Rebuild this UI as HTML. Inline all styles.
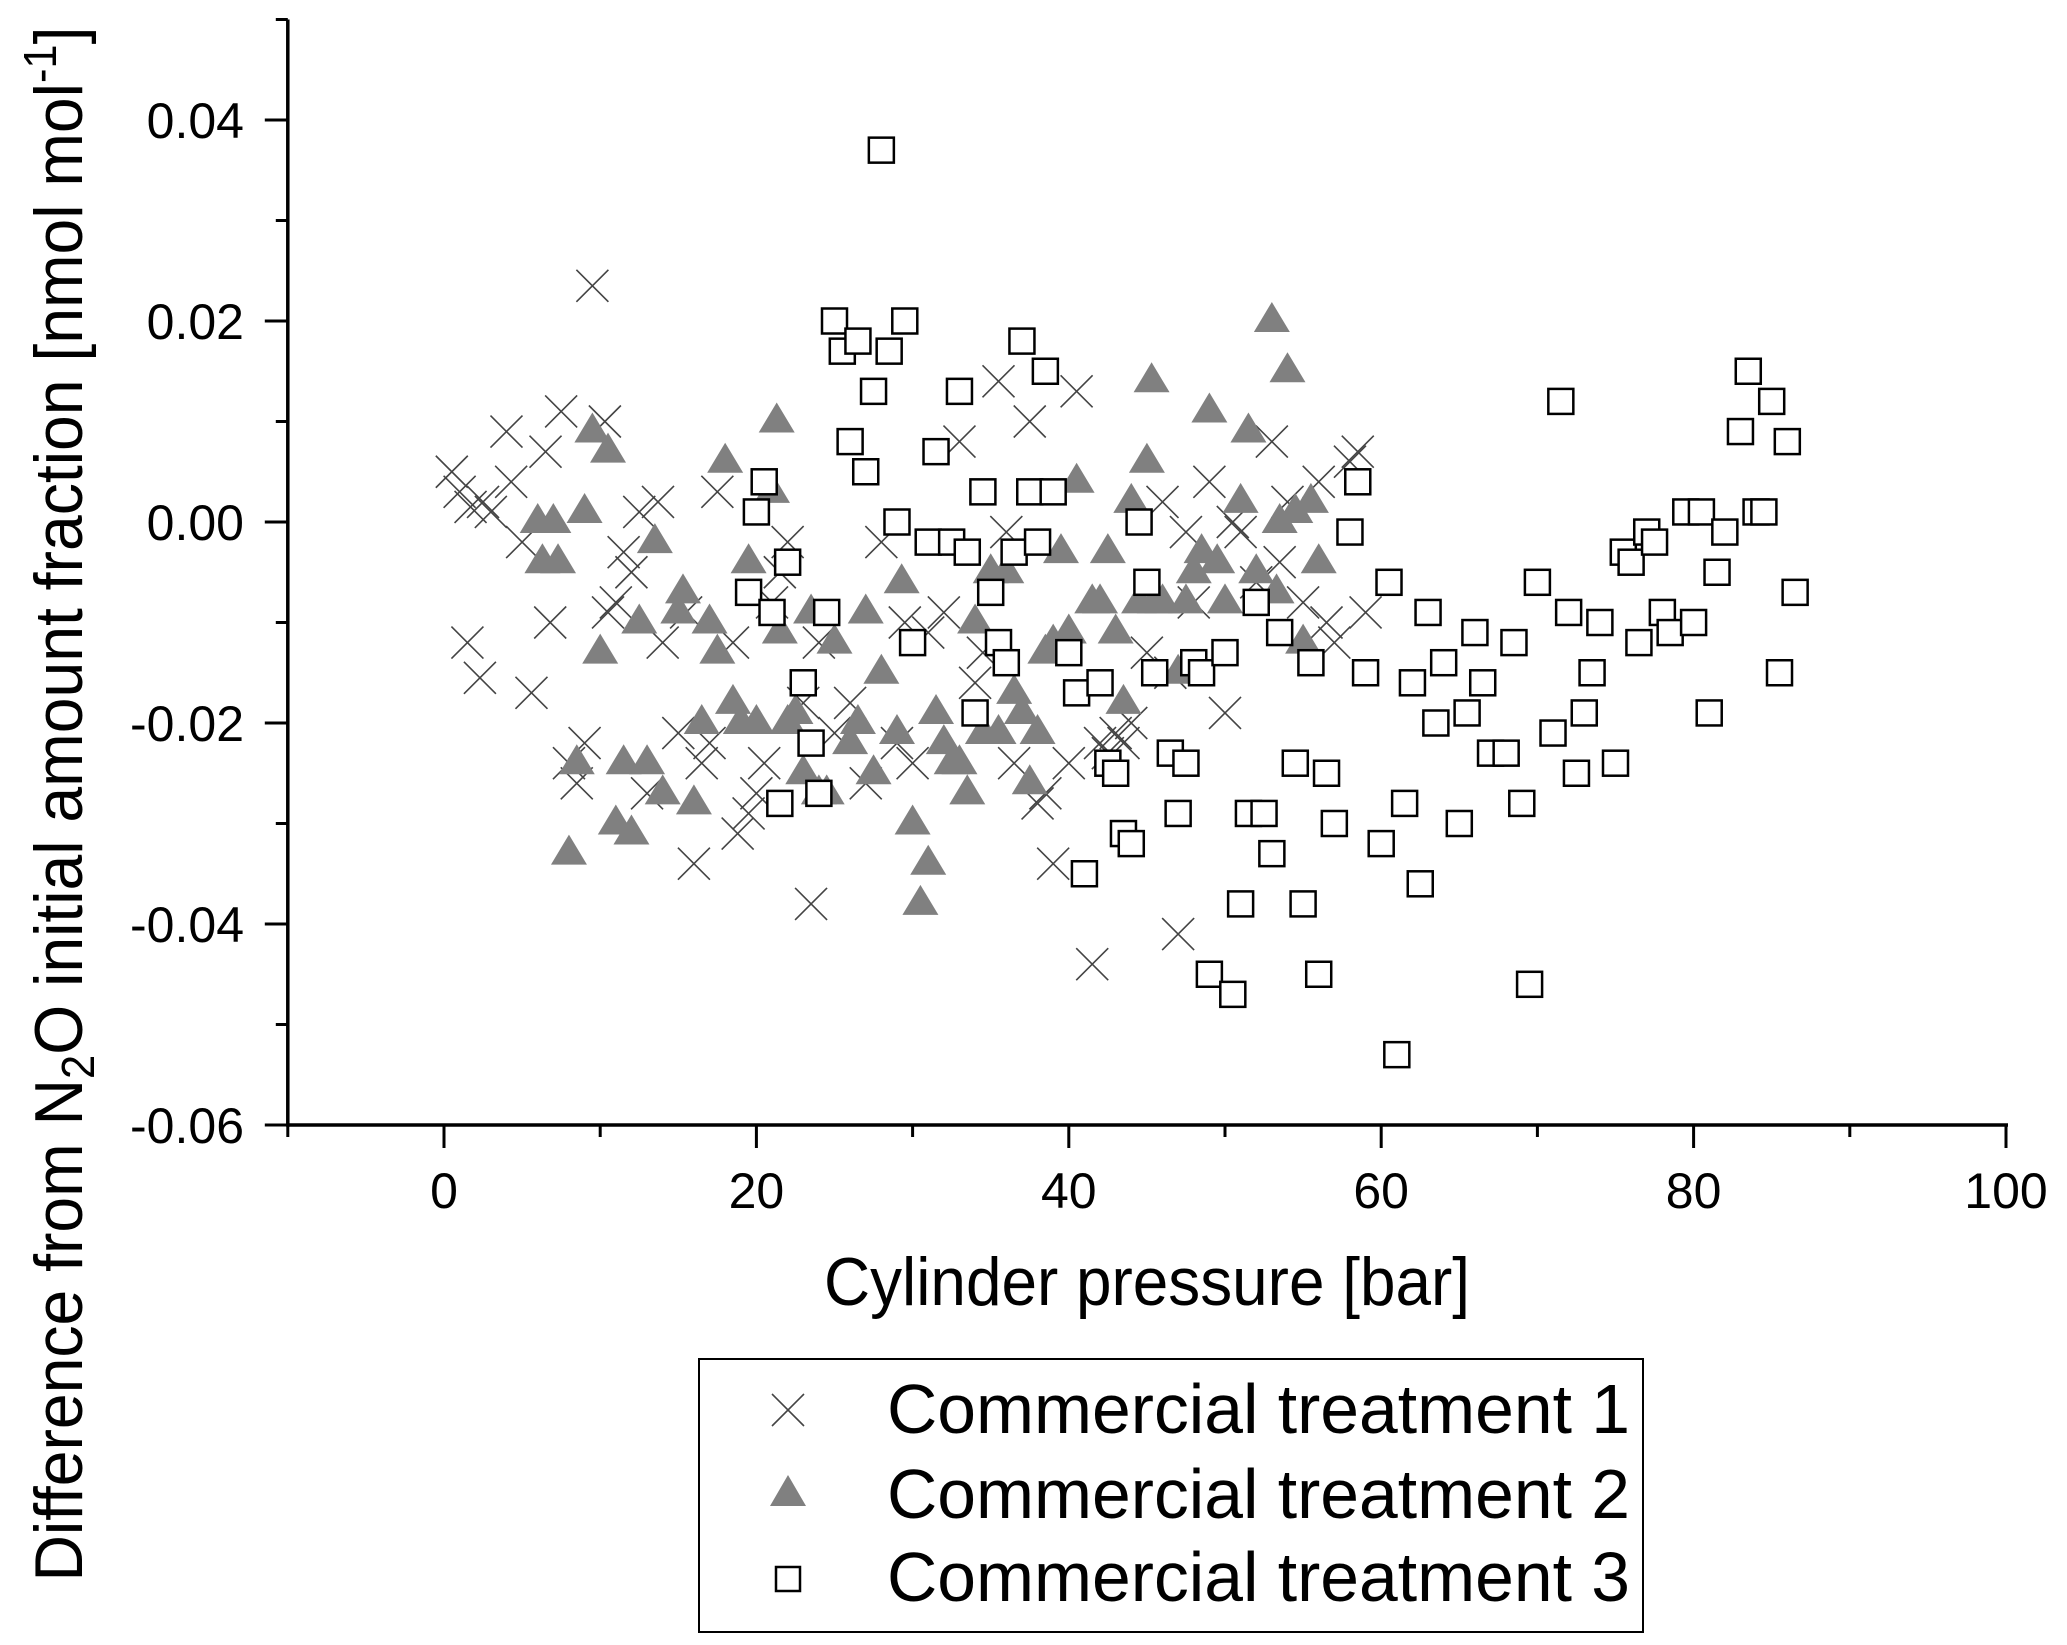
<!DOCTYPE html>
<html><head><meta charset="utf-8"><style>
html,body{margin:0;padding:0;background:#fff;}
svg{display:block;font-family:"Liberation Sans",Arial,sans-serif;}
</style></head><body>
<svg id="chart" width="2067" height="1645" viewBox="0 0 2067 1645" xmlns="http://www.w3.org/2000/svg">
<g id="marks"></g>
<g id="axes"></g>
<text x="1147" y="1305" font-size="68" text-anchor="middle" textLength="646" lengthAdjust="spacingAndGlyphs">Cylinder pressure [bar]</text>
<text transform="translate(82,804) rotate(-90)" font-size="68" text-anchor="middle" textLength="1555" lengthAdjust="spacingAndGlyphs">Difference from N<tspan font-size="46" dy="12">2</tspan><tspan dy="-12">O initial amount fraction [nmol mol</tspan><tspan font-size="46" dy="-26">-1</tspan><tspan dy="26">]</tspan></text>
<g>
<rect x="699" y="1359" width="944" height="273" fill="#fff" stroke="#000" stroke-width="2"/>
<g>
<path d="M772,1394 L804,1426 M804,1394 L772,1426" stroke="#444" stroke-width="1.6"/>
<text x="887" y="1433" font-size="70" textLength="743" lengthAdjust="spacingAndGlyphs">Commercial treatment 1</text></g>
<g>
<polygon points="788,1475 806,1506 770,1506" fill="#808080"/>
<text x="887" y="1518" font-size="70" textLength="743" lengthAdjust="spacingAndGlyphs">Commercial treatment 2</text></g>
<g>
<rect x="776" y="1567" width="24" height="24" fill="#fff" stroke="#000" stroke-width="2.5"/>
<text x="887" y="1601" font-size="70" textLength="743" lengthAdjust="spacingAndGlyphs">Commercial treatment 3</text></g>
</g>
</svg>
<script>
const xTicks=[0,20,40,60,80,100];
const xMinor=[-10,10,30,50,70,90];
const yTicks=[-0.06,-0.04,-0.02,0.00,0.02,0.04];
const yTickLabels=["-0.06","-0.04","-0.02","0.00","0.02","0.04"];
const yMinor=[-0.05,-0.03,-0.01,0.01,0.03,0.05];
const s1x=[0.5,1,1.7,2.5,3,4,4.3,1.5,2.3,5,5.6,6.5,6.8,7.5,8,8.5,9,9.5,10.3,10.5,11,11.5,12,12.5,13,13.7,14,15,15.5,16,16.5,17,17.5,18.5,18.8,19.5,20,20.5,21,21.5,22,23,23.5,24,25,26,27,28,29,29.5,30,31,32,33,34,34.5,35.5,36,36.5,37.5,38,38.5,39,40,40.5,41.5,42,42.5,43,43.5,44,45,46,46.5,47,47.5,48,49,50,50.5,51,52,53,53.5,54,55,56,56.5,57,58,58.5,59];
const s1y=[0.005,0.003,0.0015,0.002,0.001,0.009,0.004,-0.012,-0.0155,-0.002,-0.017,0.007,-0.010,0.011,-0.024,-0.026,-0.022,0.0235,0.010,-0.009,-0.008,-0.003,-0.005,0.001,-0.027,0.002,-0.012,-0.021,-0.009,-0.034,-0.024,-0.022,0.003,-0.012,-0.031,-0.029,-0.027,-0.024,-0.008,-0.005,-0.002,-0.018,-0.038,-0.012,-0.021,-0.018,-0.026,-0.002,-0.022,-0.010,-0.024,-0.011,-0.009,0.008,-0.016,-0.013,0.014,-0.001,-0.024,0.010,-0.028,-0.027,-0.034,-0.024,0.013,-0.044,-0.022,-0.023,-0.021,-0.022,-0.020,-0.013,0.002,-0.015,-0.041,-0.001,-0.008,0.004,-0.019,0.000,-0.001,-0.006,0.008,-0.004,0.002,-0.008,0.004,-0.010,-0.012,0.006,0.007,-0.009];
const s2x=[6,6.3,7,7.3,8,8.5,9,9.5,10,10.5,11,11.5,12,12.5,13,13.5,14,15,15.3,16,16.5,17,17.5,18,18.5,19,19.5,20,21,21.3,21.5,22,22.5,23,23.5,24,24.5,25,26,26.5,27,27.5,28,29,29.3,30,30.5,31,31.5,32,32.5,33,33.5,34,34.5,35,35.5,36,36.5,37,37.5,38,38.5,39,39.5,40,40.5,41.5,42,42.5,43,43.5,44,44.5,45,45.3,45.5,46,47,47.5,48,48.5,49,49.5,50,51,51.5,52,53,53.3,53.5,54,54.5,55,55.5,56];
const s2y=[0.000,-0.004,0.000,-0.004,-0.033,-0.024,0.001,0.009,-0.013,0.007,-0.030,-0.024,-0.031,-0.010,-0.024,-0.002,-0.027,-0.009,-0.007,-0.028,-0.020,-0.010,-0.013,0.006,-0.018,-0.020,-0.004,-0.020,0.003,0.010,-0.011,-0.020,-0.019,-0.025,-0.009,-0.027,-0.027,-0.012,-0.022,-0.020,-0.009,-0.025,-0.015,-0.021,-0.006,-0.030,-0.038,-0.034,-0.019,-0.022,-0.024,-0.024,-0.027,-0.010,-0.021,-0.005,-0.021,-0.005,-0.017,-0.019,-0.026,-0.021,-0.013,-0.012,-0.003,-0.011,0.004,-0.008,-0.008,-0.003,-0.011,-0.018,0.002,-0.008,0.006,0.014,-0.008,-0.008,-0.015,-0.008,-0.005,-0.003,0.011,-0.004,-0.008,0.002,0.009,-0.005,0.020,-0.007,0.000,0.015,0.001,-0.012,0.002,-0.004];
const s3x=[19.5,20,20.5,21,21.5,22,23,23.5,24,24.5,25,25.5,26,26.5,27,27.5,28,28.5,29,29.5,30,31,31.5,32.5,33,33.5,34,34.5,35,35.5,36,36.5,37,37.5,38,38.5,39,40,40.5,41,42,42.5,43,43.5,44,44.5,45,45.5,46.5,47,47.5,48,48.5,49,50,50.5,51,51.5,52,52.5,53,53.5,54.5,55,55.5,56,56.5,57,58,58.5,59,60,60.5,61,61.5,62,62.5,63,63.5,64,65,65.5,66,66.5,67,68,68.5,69,69.5,70,71,71.5,72,72.5,73,73.5,74,75,75.5,76,76.5,77,77.5,78,78.5,79.5,80,80.5,81,81.5,82,83,83.5,84,84.5,85,85.5,86,86.5];
const s3y=[-0.007,0.001,0.004,-0.009,-0.028,-0.004,-0.016,-0.022,-0.027,-0.009,0.020,0.017,0.008,0.018,0.005,0.013,0.037,0.017,0.000,0.020,-0.012,-0.002,0.007,-0.002,0.013,-0.003,-0.019,0.003,-0.007,-0.012,-0.014,-0.003,0.018,0.003,-0.002,0.015,0.003,-0.013,-0.017,-0.035,-0.016,-0.024,-0.025,-0.031,-0.032,0.000,-0.006,-0.015,-0.023,-0.029,-0.024,-0.014,-0.015,-0.045,-0.013,-0.047,-0.038,-0.029,-0.008,-0.029,-0.033,-0.011,-0.024,-0.038,-0.014,-0.045,-0.025,-0.030,-0.001,0.004,-0.015,-0.032,-0.006,-0.053,-0.028,-0.016,-0.036,-0.009,-0.020,-0.014,-0.030,-0.019,-0.011,-0.016,-0.023,-0.023,-0.012,-0.028,-0.046,-0.006,-0.021,0.012,-0.009,-0.025,-0.019,-0.015,-0.010,-0.024,-0.003,-0.004,-0.012,-0.001,-0.002,-0.009,-0.011,0.001,-0.010,0.001,-0.019,-0.005,-0.001,0.009,0.015,0.001,0.001,0.012,-0.015,0.008,-0.007];

const NS="http://www.w3.org/2000/svg";
function X(v){return 444+(v-0)*(2006-444)/100;}
function Y(v){return 522-v*(603/0.06);}
const marks=document.getElementById('marks');
const axes=document.getElementById('axes');
function mk(tag,attrs,parent){const e=document.createElementNS(NS,tag);for(const k in attrs)e.setAttribute(k,attrs[k]);parent.appendChild(e);return e;}

s1x.forEach((v,i)=>{const cx=X(v),cy=Y(s1y[i]);
 const p=mk('path',{d:`M${cx-16},${cy-16}L${cx+16},${cy+16}M${cx+16},${cy-16}L${cx-16},${cy+16}`,stroke:'#444','stroke-width':1.6,fill:'none'},marks);
 
 });
s2x.forEach((v,i)=>{const cx=X(v),cy=Y(s2y[i]);
 const p=mk('polygon',{points:`${cx},${cy-19} ${cx+18},${cy+11} ${cx-18},${cy+11}`,fill:'#808080'},marks);
 
 });
s3x.forEach((v,i)=>{const cx=X(v),cy=Y(s3y[i]);
 const p=mk('rect',{x:cx-12.5,y:cy-12.5,width:25,height:25,fill:'#fff',stroke:'#000','stroke-width':2.5},marks);
 
 });

const xa=mk('line',{x1:X(-10),x2:X(100)+2,y1:Y(-0.06),y2:Y(-0.06),stroke:'#000','stroke-width':3.5},axes);


const ya=mk('line',{x1:X(-10),x2:X(-10),y1:Y(0.05),y2:Y(-0.06)+1.75,stroke:'#000','stroke-width':3.5},axes);


xTicks.forEach(v=>{mk('line',{x1:X(v),x2:X(v),y1:Y(-0.06),y2:Y(-0.06)+23,stroke:'#000','stroke-width':3},axes);
 const t=mk('text',{x:X(v),y:1208,'font-size':50,'text-anchor':'middle'},axes);t.textContent=String(v);
 
 });
xMinor.forEach(v=>{mk('line',{x1:X(v),x2:X(v),y1:Y(-0.06),y2:Y(-0.06)+12,stroke:'#000','stroke-width':3},axes);});
yTicks.forEach((v,i)=>{mk('line',{x1:X(-10),x2:X(-10)-23,y1:Y(v),y2:Y(v),stroke:'#000','stroke-width':3},axes);
 const t=mk('text',{x:244,y:Y(v)+18,'font-size':50,'text-anchor':'end'},axes);t.textContent=yTickLabels[i];
 
 });
yMinor.forEach(v=>{mk('line',{x1:X(-10),x2:X(-10)-12,y1:Y(v),y2:Y(v),stroke:'#000','stroke-width':3},axes);});
</script>
</body></html>
